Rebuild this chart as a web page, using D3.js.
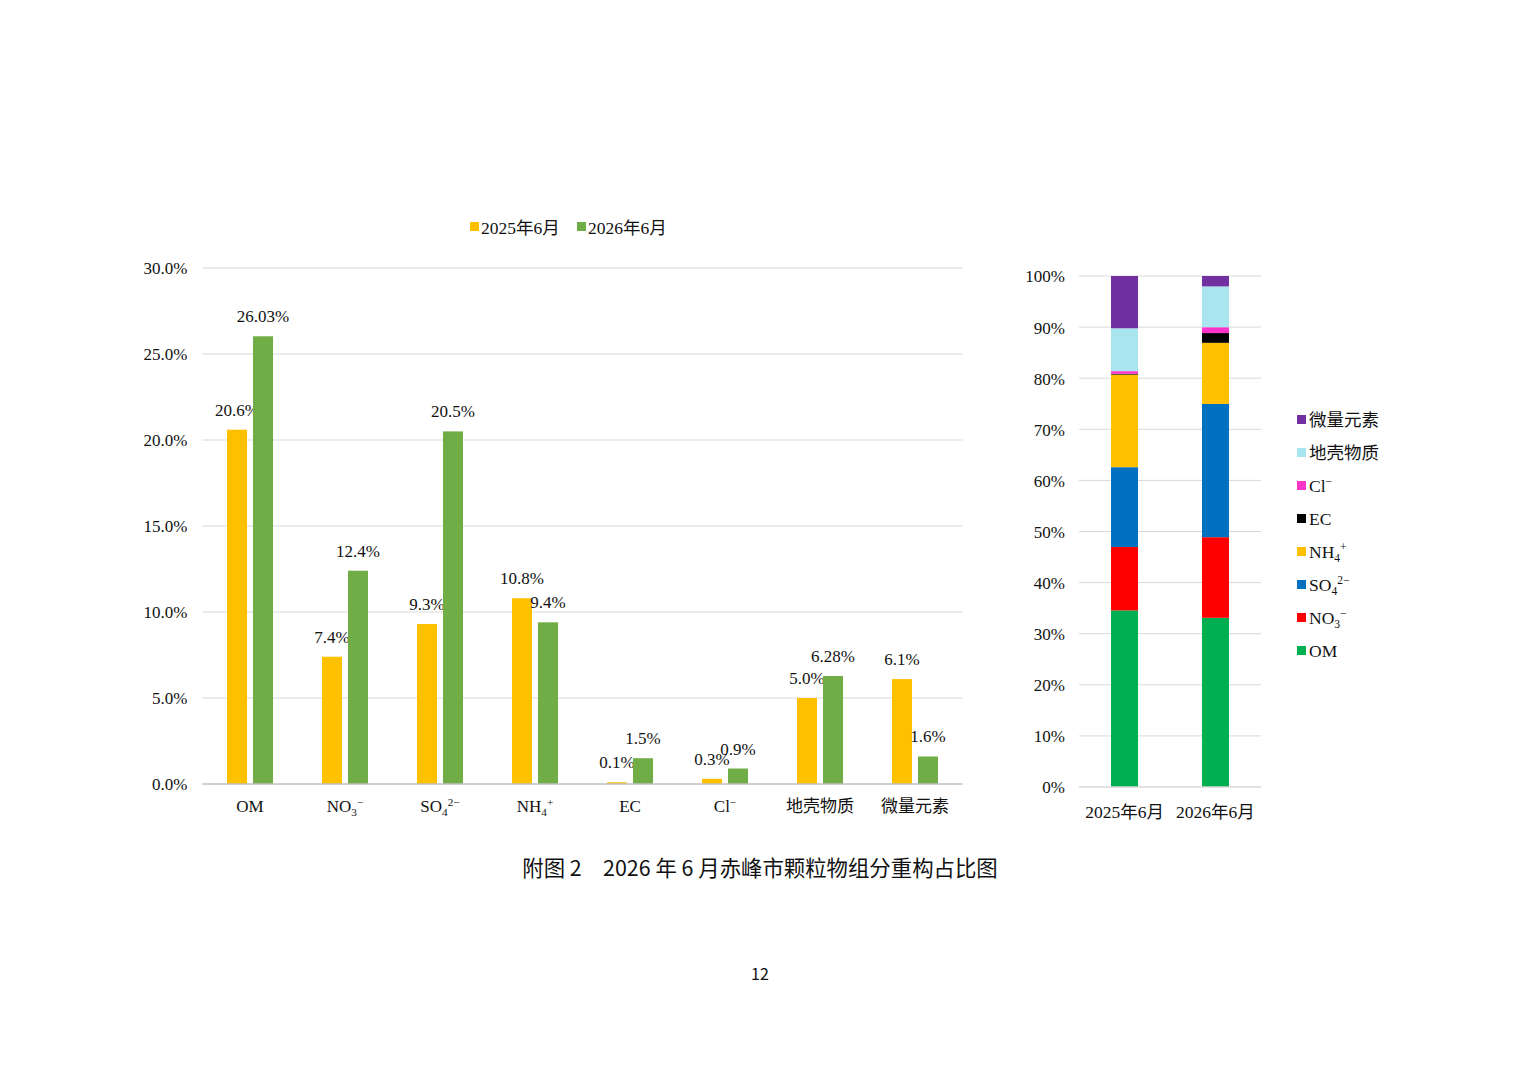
<!DOCTYPE html>
<html>
<head>
<meta charset="utf-8">
<script src="https://cdn.jsdelivr.net/npm/d3@7"></script>
<style>
  body { margin: 0; background: #fff; }
  svg { display: block; }
</style>
</head>
<body>
<div class="chart"></div>
<script>
// --- data ---
const components = ["OM", "NO3-", "SO42-", "NH4+", "EC", "Cl-", "地壳物质", "微量元素"];
const periods = ["2025年6月", "2026年6月"];
const values2025 = [20.6, 7.4, 9.3, 10.8, 0.1, 0.3, 5.0, 6.1];
const values2026 = [26.03, 12.4, 20.5, 9.4, 1.5, 0.9, 6.28, 1.6];
const labels2025 = ["20.6%", "7.4%", "9.3%", "10.8%", "0.1%", "0.3%", "5.0%", "6.1%"];
const labels2026 = ["26.03%", "12.4%", "20.5%", "9.4%", "1.5%", "0.9%", "6.28%", "1.6%"];
const leftTicks = [0, 5, 10, 15, 20, 25, 30];
const rightTicks = [0, 0.1, 0.2, 0.3, 0.4, 0.5, 0.6, 0.7, 0.8, 0.9, 1];

const periodColors = ["#FFC000", "#70AD47"];
const stackColors = ["#00B050", "#FF0000", "#0070C0", "#FFC000", "#000000", "#FF33CC", "#A9E5EF", "#7030A0"];

// chemical formula markup: [text, "sub"|"sup"|""]
const formula = {
  "NO3-": [["NO", ""], ["3", "sub"], ["−", "sup"]],
  "SO42-": [["SO", ""], ["4", "sub"], ["2−", "sup"]],
  "NH4+": [["NH", ""], ["4", "sub"], ["+", "sup"]],
  "Cl-": [["Cl", ""], ["−", "sup"]]
};

const serif = "'Liberation Serif', 'Noto Sans CJK SC', serif";
const W = 1520, H = 1074;

const svg = d3.select(".chart").append("svg")
  .attr("width", W).attr("height", H)
  .style("background", "#fff");

// writes a label with sub/superscripts into a <text>
function richText(text, key, size) {
  const parts = formula[key];
  if (!parts) { text.text(key); return; }
  let shift = 0;
  parts.forEach(([t, kind]) => {
    const ts = text.append("tspan").text(t);
    let target = 0;
    if (kind === "sub") target = size * 0.25;
    if (kind === "sup") target = -size * 0.38;
    if (kind) ts.style("font-size", (size * 0.66) + "px");
    ts.attr("dy", target - shift);
    shift = target;
  });
}

// ================= left: grouped bar chart =================
const L = { x0: 202.5, x1: 962.5, yBottom: 784, yTop: 268 };

const x = d3.scaleBand().domain(components).range([L.x0, L.x1]);
const xSub = d3.scaleBand().domain(periods).range([0, x.bandwidth()])
  .paddingInner(0.23).paddingOuter(0.942);
const y = d3.scaleLinear().domain([0, 30]).range([L.yBottom, L.yTop]);

const left = svg.append("g");

// gridlines
left.append("g").selectAll("line")
  .data(leftTicks.filter(d => d > 0))
  .join("line")
  .attr("x1", L.x0).attr("x2", L.x1)
  .attr("y1", d => y(d)).attr("y2", d => y(d))
  .attr("stroke", "#d9d9d9").attr("stroke-width", 1);

// y axis labels
const yAxisL = left.append("g")
  .attr("transform", `translate(${L.x0 - 15},0)`)
  .call(d3.axisLeft(y).tickValues(leftTicks).tickFormat(d => d.toFixed(1) + "%").tickSize(0));
yAxisL.select(".domain").remove();
yAxisL.selectAll("text")
  .attr("x", 0).attr("dy", "0.35em")
  .style("font-family", serif).style("font-size", "17px").style("fill", "#111");

// bars
const series = [values2025, values2026];
const seriesLabels = [labels2025, labels2026];
periods.forEach((p, si) => {
  const g = left.append("g");
  g.selectAll("rect")
    .data(components)
    .join("rect")
    .attr("x", (c) => x(c) + xSub(p))
    .attr("width", xSub.bandwidth())
    .attr("y", (c, i) => y(series[si][i]))
    .attr("height", (c, i) => y(0) - y(series[si][i]))
    .attr("fill", periodColors[si]);
  g.selectAll("text")
    .data(components)
    .join("text")
    .attr("x", (c) => x(c) + xSub(p) + xSub.bandwidth() / 2)
    .attr("y", (c, i) => y(series[si][i]) - 14)
    .attr("text-anchor", "middle")
    .style("font-family", serif).style("font-size", "17px").style("fill", "#111")
    .text((c, i) => seriesLabels[si][i]);
});

// x axis line
left.append("line")
  .attr("x1", L.x0).attr("x2", L.x1)
  .attr("y1", y(0)).attr("y2", y(0))
  .attr("stroke", "#bfbfbf").attr("stroke-width", 1.3);

// category labels
left.append("g").selectAll("text")
  .data(components)
  .join("text")
  .attr("x", c => x(c) + x.bandwidth() / 2)
  .attr("y", 812)
  .attr("text-anchor", "middle")
  .style("font-family", serif).style("font-size", "17px").style("fill", "#111")
  .each(function (c) { richText(d3.select(this), c, 17); });

// top legend
const legTop = left.append("g").attr("transform", "translate(470,228)");
periods.forEach((p, i) => {
  const g = legTop.append("g").attr("transform", `translate(${i * 107},0)`);
  g.append("rect").attr("x", 0).attr("y", -6).attr("width", 9).attr("height", 9).attr("fill", periodColors[i]);
  g.append("text").attr("x", 11).attr("y", 6)
    .style("font-family", serif).style("font-size", "17.5px").style("fill", "#111")
    .text(p);
});

// ================= right: 100% stacked bars =================
const R = { x0: 1079, x1: 1261, yBottom: 787, yTop: 276 };

const rows = periods.map((p, pi) => {
  const row = { period: p };
  components.forEach((c, ci) => { row[c] = series[pi][ci]; });
  return row;
});
const stack = d3.stack().keys(components).offset(d3.stackOffsetExpand);
const stacked = stack(rows);

const xr = d3.scaleBand().domain(periods).range([R.x0, R.x1])
  .paddingInner(0.703).paddingOuter(0.352);
const yr = d3.scaleLinear().domain([0, 1]).range([R.yBottom, R.yTop]);

const right = svg.append("g");

right.append("g").selectAll("line")
  .data(rightTicks.filter(d => d > 0))
  .join("line")
  .attr("x1", R.x0).attr("x2", R.x1)
  .attr("y1", d => yr(d)).attr("y2", d => yr(d))
  .attr("stroke", "#d9d9d9").attr("stroke-width", 1);

const yAxisR = right.append("g")
  .attr("transform", `translate(${R.x0 - 14},0)`)
  .call(d3.axisLeft(yr).tickValues(rightTicks).tickFormat(d3.format(".0%")).tickSize(0));
yAxisR.select(".domain").remove();
yAxisR.selectAll("text")
  .attr("x", 0).attr("dy", "0.35em")
  .style("font-family", serif).style("font-size", "17px").style("fill", "#111");

right.append("g").selectAll("g")
  .data(stacked)
  .join("g")
  .attr("fill", (d, i) => stackColors[i])
  .selectAll("rect")
  .data(d => d)
  .join("rect")
  .attr("x", d => xr(d.data.period))
  .attr("width", xr.bandwidth())
  .attr("y", d => yr(d[1]))
  .attr("height", d => yr(d[0]) - yr(d[1]));

right.append("line")
  .attr("x1", R.x0).attr("x2", R.x1)
  .attr("y1", yr(0)).attr("y2", yr(0))
  .attr("stroke", "#d9d9d9").attr("stroke-width", 1.3);

right.append("g").selectAll("text")
  .data(periods)
  .join("text")
  .attr("x", p => xr(p) + xr.bandwidth() / 2)
  .attr("y", 818)
  .attr("text-anchor", "middle")
  .style("font-family", serif).style("font-size", "17.5px").style("fill", "#111")
  .text(p => p);

// right legend (reversed order, top = last series)
const legR = right.append("g").attr("transform", "translate(1297,420)");
components.slice().reverse().forEach((c, i) => {
  const ci = components.indexOf(c);
  const g = legR.append("g").attr("transform", `translate(0,${i * 33})`);
  g.append("rect").attr("x", 0).attr("y", -5).attr("width", 9).attr("height", 9).attr("fill", stackColors[ci]);
  const t = g.append("text").attr("x", 12).attr("y", 6)
    .style("font-family", serif).style("font-size", "17.5px").style("fill", "#111");
  richText(t, c, 17.5);
});

// ================= caption and page number =================
svg.append("text")
  .attr("x", 760).attr("y", 876)
  .attr("text-anchor", "middle")
  .style("font-family", "'Noto Sans CJK SC', sans-serif")
  .style("font-size", "21.4px").style("fill", "#111")
  .text("附图 2　2026 年 6 月赤峰市颗粒物组分重构占比图");

svg.append("text")
  .attr("x", 760).attr("y", 980)
  .attr("text-anchor", "middle")
  .style("font-family", "'Noto Sans CJK SC', sans-serif")
  .style("font-size", "16px").style("fill", "#111")
  .text("12");
</script>
</body>
</html>
